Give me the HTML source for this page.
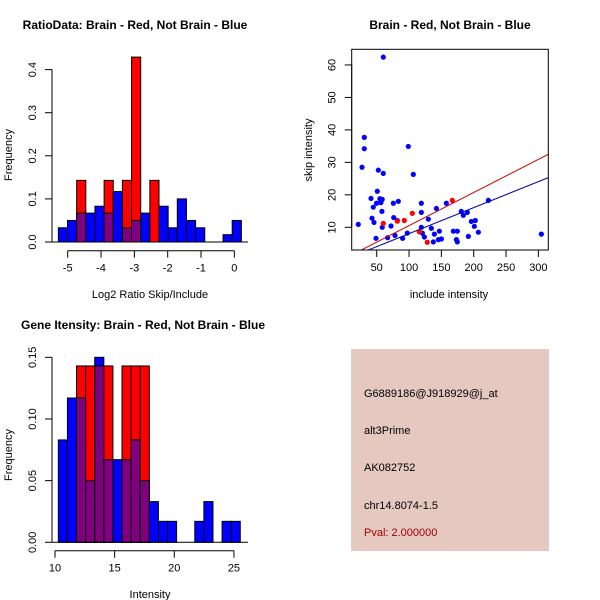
<!DOCTYPE html>
<html><head><meta charset="utf-8"><style>
body{margin:0;background:#fff}
svg{display:block;font-family:"Liberation Sans",sans-serif}
</style></head><body>
<svg id="c" width="600" height="600" viewBox="0 0 600 600">
<rect x="351" y="349" width="198" height="202" fill="#e5c8c0"/>
<g font-size="11">
<text x="364" y="397">G6889186@J918929@j_at</text>
<text x="364" y="434">alt3Prime</text>
<text x="364" y="471">AK082752</text>
<text x="364" y="509">chr14.8074-1.5</text>
<text x="364" y="536" fill="#a00000">Pval: 2.000000</text>
</g>
</svg>
<script>
// Histogram 1 data
const h1Start=-5.28, h1Width=0.2745;
const h1Blue=[0.033,0.05,0.067,0.067,0.083,0.067,0.117,0.033,0.05,0.067,0,0.083,0.033,0.1,0.05,0.033,0,0,0.017,0.05];
const h1Red=[0,0,0.143,0,0,0.143,0,0.143,0.429,0,0.143,0,0,0,0,0,0,0,0,0];
const h1XTicks=[-5,-4,-3,-2,-1,0];
const h1YTicks=[0,0.1,0.2,0.3,0.4];
const h1YLabels=["0.0","0.1","0.2","0.3","0.4"];
// Histogram 2 data
const h3Start=10.28, h3Width=0.7625;
const h3Blue=[0.083,0.117,0.117,0.05,0.15,0.067,0.067,0.067,0.083,0.05,0.033,0.017,0.017,0,0,0.017,0.033,0,0.017,0.017];
const h3Red=[0,0,0.143,0.143,0.143,0.143,0,0.143,0.143,0.143,0,0,0,0,0,0,0,0,0,0];
const h3XTicks=[10,15,20,25];
const h3YTicks=[0,0.05,0.1,0.15];
const h3YLabels=["0.00","0.05","0.10","0.15"];
// Scatter data
const blueX=[60.2,30.8,30.8,27.3,21.5,52.5,60.2,98.9,106.6,50.9,41.2,44.7,49.8,54.9,58.5,56.5,42.7,45.8,58.1,48.9,58.6,66.9,72.1,75.7,83.4,76.3,81.9,78.3,90.1,97.3,119,119,119,120.6,123.7,129.9,134.5,139.2,137.6,142.3,146.9,145.4,150,157.7,168.5,174.7,173.2,174.7,180.8,183.9,190.1,191.7,196.3,202.5,201,207.2,222.7,304.6];
const blueY=[62.4,37.7,34.2,28.5,10.9,27.6,26.6,34.9,26.3,21.1,18.9,16.2,17.4,18.8,18.6,17.6,12.8,11.5,14.9,6.6,10,6.8,10.4,17.4,18.0,13.0,12.1,7.5,6.6,8.2,17.4,14.6,10,8.2,7.0,12.5,9.7,7.9,5.5,15.8,8.8,6.2,6.4,17.4,8.8,8.8,6.2,5.5,14.9,13.7,14.6,7.2,11.8,12.1,10.3,8.5,18.3,7.9];
const redX=[60.2,81.9,92.7,105.1,115.9,128.2,166.9];
const redY=[11.2,11.9,12.1,14.3,8.6,5.4,18.3];
const fitRed=[0.33,0.102], fitBlue=[0.04,0.0801];
const sXTicks=[50,100,150,200,250,300];
const sYTicks=[10,20,30,40,50,60];

const svg=document.getElementById('c');
const NS='http://www.w3.org/2000/svg';
function mk(tag,attrs,parent){const e=document.createElementNS(NS,tag);for(const k in attrs)e.setAttribute(k,attrs[k]);(parent||svg).appendChild(e);return e;}
function txt(x,y,s,opts,parent){const t=mk('text',Object.assign({x:x,y:y},opts||{}),parent);t.textContent=s;return t;}

function hist(g,start,w,blue,red,sx,sy){
  for(let i=0;i<blue.length;i++){
    const x0=sx(start+i*w), x1=sx(start+(i+1)*w);
    const b=blue[i], r=red[i];
    if(b>0){const e=mk('rect',{x:x0,y:sy(b),width:x1-x0,height:sy(0)-sy(b),fill:'#0000ff',stroke:'#000','stroke-width':1},g);
      
      }
    if(r>0){const e=mk('rect',{x:x0,y:sy(r),width:x1-x0,height:sy(0)-sy(r),fill:'#ff0000',stroke:'#000','stroke-width':1},g);
      
      }
    if(b>0&&r>0){const m=Math.min(b,r);const e=mk('rect',{x:x0,y:sy(m),width:x1-x0,height:sy(0)-sy(m),fill:'#800080',stroke:'#000','stroke-width':1},g);
      
      }
  }
}
function yaxis(g,x,ticks,labels,sy){
  mk('line',{x1:x,x2:x,y1:sy(ticks[0]),y2:sy(ticks[ticks.length-1]),stroke:'#000'},g);
  ticks.forEach((t,i)=>{const y=sy(t);mk('line',{x1:x,x2:x-7,y1:y,y2:y,stroke:'#000'},g);
    const l=txt(x-16,y,labels[i],{'font-size':11,'text-anchor':'middle',transform:`rotate(-90 ${x-16} ${y})`},g);
    
    });
}
function xaxis(g,y,ticks,labels,sx){
  mk('line',{x1:sx(ticks[0]),x2:sx(ticks[ticks.length-1]),y1:y,y2:y,stroke:'#000'},g);
  ticks.forEach((t,i)=>{const x=sx(t);mk('line',{x1:x,x2:x,y1:y,y2:y+7,stroke:'#000'},g);
    const l=txt(x,y+21,labels[i],{'font-size':11,'text-anchor':'middle'},g);
    
    });
}

// Panel 1
{
  const g=mk('g',{});
  
  
  const sx=v=>67.7+(v+5)*33.33, sy=v=>242-v*431;
  hist(g,h1Start,h1Width,h1Blue,h1Red,sx,sy);
  mk('line',{x1:52,x2:248,y1:242,y2:242,stroke:'#000'},g);
  yaxis(g,52,h1YTicks,h1YLabels,sy);
  xaxis(g,250.7,h1XTicks,h1XTicks.map(String),sx);
  const t=txt(135,29,'RatioData: Brain - Red, Not Brain - Blue',{'font-size':12,'font-weight':'bold','text-anchor':'middle'},g);
  
  const xl=txt(150,298,'Log2 Ratio Skip/Include',{'font-size':11,'text-anchor':'middle'},g);
  
  const yl=txt(12,155,'Frequency',{'font-size':11,'text-anchor':'middle',transform:'rotate(-90 12 155)'},g);
  
}
// Panel 3
{
  const g=mk('g',{});
  
  
  const sx=v=>55+(v-10)*11.93, sy=v=>542.3-v*1233.3;
  hist(g,h3Start,h3Width,h3Blue,h3Red,sx,sy);
  mk('line',{x1:52,x2:248,y1:542.3,y2:542.3,stroke:'#000'},g);
  yaxis(g,52,h3YTicks,h3YLabels,sy);
  xaxis(g,550.7,h3XTicks,h3XTicks.map(String),sx);
  const t=txt(143,329,'Gene Itensity: Brain - Red, Not Brain - Blue',{'font-size':12,'font-weight':'bold','text-anchor':'middle'},g);
  
  const xl=txt(150,598,'Intensity',{'font-size':11,'text-anchor':'middle'},g);
  
  const yl=txt(12,455,'Frequency',{'font-size':11,'text-anchor':'middle',transform:'rotate(-90 12 455)'},g);
  
}
// Panel 2 scatter
{
  const g=mk('g',{});
  
  
  const sx=v=>376.7+(v-50)*0.6467, sy=v=>227.3-(v-10)*3.247;
  const L=351.7,R=548.3,T=49.3,B=250;
  mk('defs',{},g).innerHTML='<clipPath id="clp"><rect x="351.7" y="49.3" width="196.6" height="200.7"/></clipPath>';
  const inner=mk('g',{'clip-path':'url(#clp)'},g);
  blueX.forEach((x,i)=>{const c=mk('circle',{cx:sx(x),cy:sy(blueY[i]),r:2.6,fill:'#0000ff'},inner);
    });
  redX.forEach((x,i)=>{const c=mk('circle',{cx:sx(x),cy:sy(redY[i]),r:2.6,fill:'#ff0000'},inner);
    });
  const x0=0,x1=330;
  const lr=mk('line',{x1:sx(x0),y1:sy(fitRed[0]+fitRed[1]*x0),x2:sx(x1),y2:sy(fitRed[0]+fitRed[1]*x1),stroke:'#cc0000','stroke-width':1},inner);
  
  const lb=mk('line',{x1:sx(x0),y1:sy(fitBlue[0]+fitBlue[1]*x0),x2:sx(x1),y2:sy(fitBlue[0]+fitBlue[1]*x1),stroke:'#0000aa','stroke-width':1},inner);
  
  mk('rect',{x:L,y:T,width:R-L,height:B-T,fill:'none',stroke:'#000'},g);
  yaxis(g,L,sYTicks,sYTicks.map(String),sy);
  xaxis(g,B,sXTicks,sXTicks.map(String),sx);
  const t=txt(450,29,'Brain - Red, Not Brain - Blue',{'font-size':12,'font-weight':'bold','text-anchor':'middle'},g);
  
  const xl=txt(449,298,'include intensity',{'font-size':11,'text-anchor':'middle'},g);
  
  const yl=txt(312,150,'skip intensity',{'font-size':11,'text-anchor':'middle',transform:'rotate(-90 312 150)'},g);
  
}
</script>
</body></html>
